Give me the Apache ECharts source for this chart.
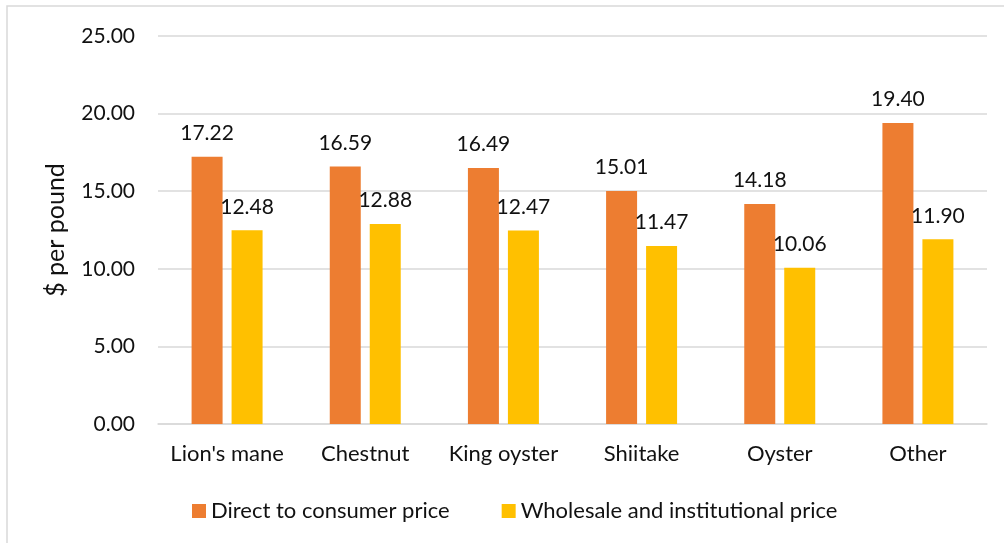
<!DOCTYPE html>
<html>
<head>
<meta charset="utf-8">
<script src="https://cdn.jsdelivr.net/npm/echarts@6/dist/echarts.min.js"></script>
<style>
  html, body { margin: 0; padding: 0; background: #fff; }
  #chart { width: 1004px; height: 543px; }
</style>
</head>
<body>
<div id="chart"></div>
<script>
// mushroom prices, $ per pound
const categories = ["Lion's mane", "Chestnut", "King oyster", "Shiitake", "Oyster", "Other"];
const directPrice = [17.22, 16.59, 16.49, 15.01, 14.18, 19.40];
const wholesalePrice = [12.48, 12.88, 12.47, 11.47, 10.06, 11.90];
const seriesNames = ["Direct to consumer price", "Wholesale and institutional price"];

const fontFamily = "Lato, 'Open Sans', sans-serif";
const textColor = "#111";

const chart = echarts.init(document.getElementById("chart"));

const barLabel = {
    show: true,
    position: "top",
    distance: 13,
    color: textColor,
    fontFamily: fontFamily,
    fontSize: 21,
    formatter: p => p.value.toFixed(2),
};

chart.setOption({
    animation: false,
    textStyle: { fontFamily: fontFamily },
    graphic: [
        {
            type: "rect",
            shape: { x: 7, y: 6, width: 1010, height: 560 },
            style: { fill: "none", stroke: "#d9d9d9", lineWidth: 1.5 },
            silent: true,
        },
    ],
    grid: { left: 158, right: 17, top: 36, bottom: 119 },
    legend: {
        data: seriesNames,
        left: 187,
        top: 495,
        itemWidth: 14,
        itemHeight: 14,
        itemGap: 52,
        icon: "rect",
        textStyle: { color: textColor, fontSize: 22, fontFamily: fontFamily },
    },
    xAxis: {
        type: "category",
        data: categories,
        axisTick: { show: false },
        axisLine: { lineStyle: { color: "#d9d9d9", width: 1.5 } },
        axisLabel: { interval: 0, color: textColor, fontSize: 22, margin: 19, fontFamily: fontFamily },
    },
    yAxis: {
        type: "value",
        min: 0,
        max: 25,
        interval: 5,
        name: "$ per pound",
        nameLocation: "middle",
        nameGap: 90,
        nameRotate: 90,
        nameTextStyle: { color: textColor, fontSize: 25, fontFamily: fontFamily },
        axisLabel: {
            color: textColor,
            fontSize: 21,
            margin: 23,
            fontFamily: fontFamily,
            formatter: v => v.toFixed(2),
        },
        splitLine: { lineStyle: { color: "#d9d9d9", width: 1.5 } },
    },
    series: [
        {
            name: seriesNames[0],
            type: "bar",
            data: directPrice,
            barWidth: 31,
            barGap: "29%",
            itemStyle: { color: "#ED7D31" },
            label: barLabel,
        },
        {
            name: seriesNames[1],
            type: "bar",
            data: wholesalePrice,
            barWidth: 31,
            itemStyle: { color: "#FFC000" },
            label: barLabel,
        },
    ],
});
</script>
</body>
</html>
